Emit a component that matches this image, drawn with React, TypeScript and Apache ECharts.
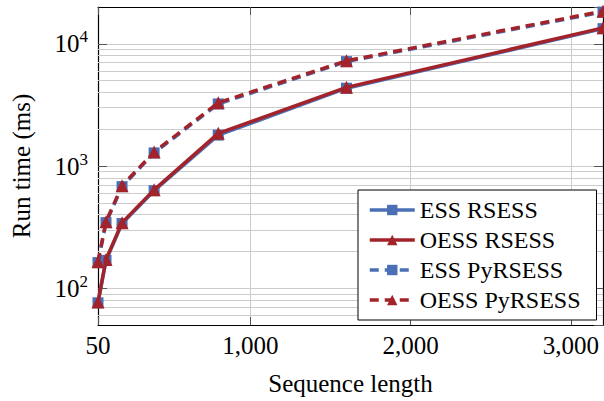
import React, { useEffect, useRef } from "react";
import * as echarts from "echarts";

const xValues = [50, 100, 200, 400, 800, 1600, 3200];
const essRsess = [76, 169, 338, 628, 1790, 4330, 13300];
const oessRsess = [77, 172, 344, 638, 1850, 4400, 13500];
const essPyRsess = [162, 344, 678, 1280, 3220, 7150, 18200];
const oessPyRsess = [165, 350, 690, 1300, 3290, 7260, 18500];
const xTickValues = [50, 1000, 2000, 3000];
const minorGridValues = [60, 70, 80, 90, 200, 300, 400, 500, 600, 700, 800, 900, 2000, 3000, 4000, 5000, 6000, 7000, 8000, 9000];
const seriesNames = ["ESS RSESS", "OESS RSESS", "ESS PyRSESS", "OESS PyRSESS"];

const FONT = "serif";
const BLUE = "#4a6fb5";
const RED = "#a3232b";

export default function App() {
  const ref = useRef<HTMLDivElement>(null);
  useEffect(() => {
    if (!ref.current) return;
    const chart = echarts.init(ref.current, undefined, { renderer: "svg" });
    const mk = (name: string, data: number[], color: string, dashed: boolean, symbol: string, size: number, z: number) => ({
      name,
      type: "line",
      data: xValues.map((x, i) => [x, data[i]]),
      symbol,
      symbolSize: size,
      showSymbol: true,
      z,
      itemStyle: { color },
      lineStyle: { color, width: 3.5, type: dashed ? [9, 6] : "solid" },
      clip: false,
    });
    const series: any[] = [
      {
        ...mk(seriesNames[0], essRsess, BLUE, false, "rect", 11, 2),
        markLine: {
          silent: true,
          symbol: "none",
          z: 1,
          label: { show: false },
          lineStyle: { color: "#cccccc", width: 1, type: "solid" },
          data: minorGridValues.map((v) => ({ yAxis: v })),
        },
      },
      mk(seriesNames[1], oessRsess, RED, false, "triangle", 13, 3),
      mk(seriesNames[2], essPyRsess, BLUE, true, "rect", 11, 4),
      mk(seriesNames[3], oessPyRsess, RED, true, "triangle", 13, 5),
    ];
    const yLabel = (v: number) => {
      const e = Math.log10(v);
      if (Math.abs(e - Math.round(e)) > 1e-6) return "";
      return `{b|10}{s|${Math.round(e)}}`;
    };
    chart.setOption({
      animation: false,
      textStyle: { fontFamily: FONT },
      grid: { left: 98, right: 1, top: 7, bottom: 76, containLabel: false },
      legend: {
        data: seriesNames,
        orient: "vertical",
        left: 358,
        top: 190,
        itemWidth: 45,
        itemHeight: 13,
        itemGap: 6,
        padding: [8, 16, 8, 10],
        backgroundColor: "#ffffff",
        borderColor: "#000000",
        borderWidth: 1,
        borderRadius: 0,
        lineStyle: { width: 3.5 },
        textStyle: { fontFamily: FONT, fontSize: 24, color: "#000" },
      },
      xAxis: [
        {
          type: "value",
          min: 50,
          max: 3200,
          name: "Sequence length",
          nameLocation: "middle",
          nameGap: 46,
          nameTextStyle: { fontFamily: FONT, fontSize: 25, color: "#000" },
          axisLine: { show: true, lineStyle: { color: "#000", width: 1.2 } },
          axisTick: { show: true, inside: true, length: 8, customValues: xTickValues, lineStyle: { color: "#555" } },
          axisLabel: {
            customValues: xTickValues,
            margin: 8,
            fontFamily: FONT,
            fontSize: 25,
            color: "#000",
            formatter: (v: number) => v.toLocaleString("en-US"),
          },
          splitLine: { show: true, lineStyle: { color: "#cccccc", width: 1 } },
        },
        {
          type: "value",
          position: "top",
          min: 50,
          max: 3200,
          axisLine: { show: true, onZero: false, lineStyle: { color: "#000", width: 1.2 } },
          axisTick: { show: true, inside: true, length: 8, customValues: xTickValues, lineStyle: { color: "#555" } },
          axisLabel: { show: false },
          splitLine: { show: false },
        },
      ],
      yAxis: [
        {
          type: "log",
          logBase: 10,
          min: 50,
          max: 20000,
          name: "Run time (ms)",
          nameLocation: "middle",
          nameGap: 64,
          nameTextStyle: { fontFamily: FONT, fontSize: 25, color: "#000" },
          axisLine: { show: true, lineStyle: { color: "#000", width: 1.2 } },
          axisTick: { show: true, inside: true, length: 9, lineStyle: { color: "#555" } },
          axisLabel: {
            margin: 10,
            showMinLabel: false,
            showMaxLabel: false,
            formatter: yLabel,
            rich: {
              b: { fontFamily: FONT, fontSize: 25, color: "#000" },
              s: { fontFamily: FONT, fontSize: 17, color: "#000", padding: [0, 0, 14, 0] },
            },
          },
          splitLine: { show: true, lineStyle: { color: "#cccccc", width: 1 } },
        },
        {
          type: "log",
          logBase: 10,
          min: 50,
          max: 20000,
          position: "right",
          axisLine: { show: true, onZero: false, lineStyle: { color: "#000", width: 1.2 } },
          axisTick: { show: true, inside: true, length: 9, lineStyle: { color: "#555" } },
          axisLabel: { show: false },
          splitLine: { show: false },
        },
      ],
      series,
    });
    return () => chart.dispose();
  }, []);
  return (
    <div
      ref={ref}
      style={{ position: "fixed", left: 0, top: 0, width: 604, height: 401, background: "#fff" }}
    />
  );
}
